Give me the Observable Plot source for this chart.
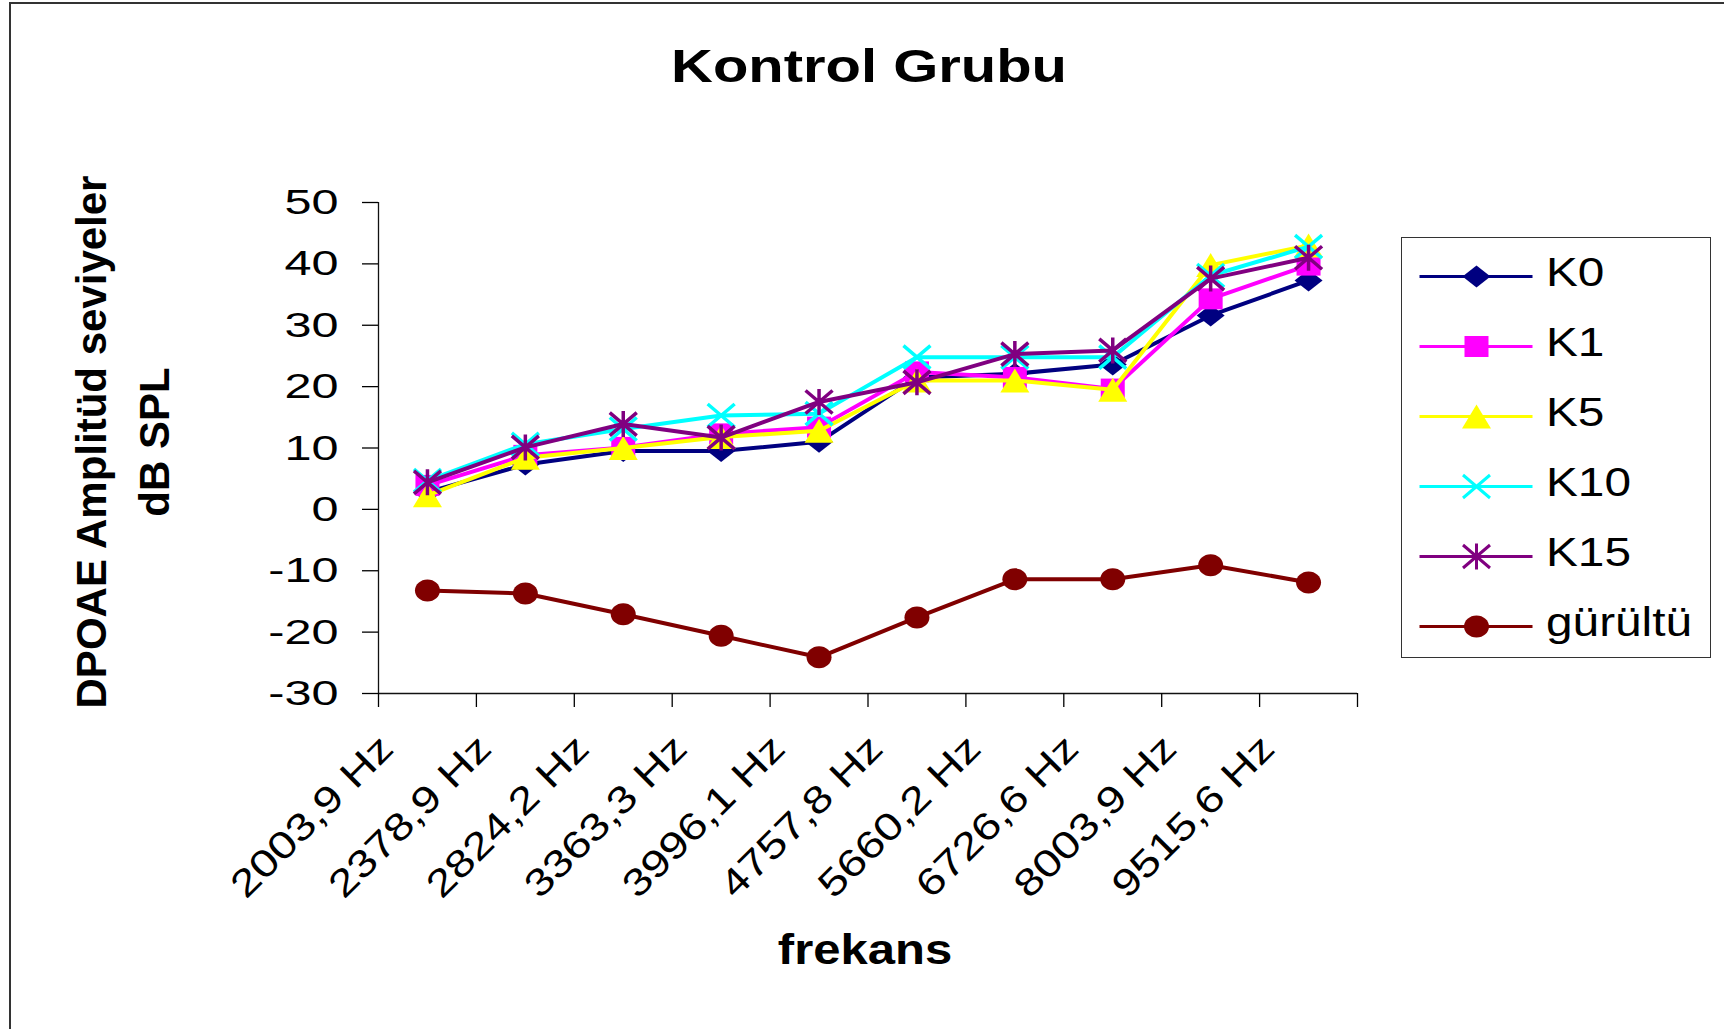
<!DOCTYPE html>
<html><head><meta charset="utf-8">
<script src="https://cdn.jsdelivr.net/npm/d3@7"></script>
<script src="https://cdn.jsdelivr.net/npm/@observablehq/plot@0.6"></script>
<style>
html,body{margin:0;padding:0;background:#fff;}
#page{position:relative;width:1724px;height:1029px;overflow:hidden;background:#fff;font-family:"Liberation Sans",Arial,sans-serif;}
#frame{position:absolute;left:9px;top:2px;width:1800px;height:1100px;border:2px solid #333;box-sizing:border-box;}
#chart{position:absolute;left:0;top:0;}
#legend{position:absolute;left:1401px;top:237px;width:310px;height:421px;border:1.5px solid #333;box-sizing:border-box;background:#fff;}
#legend svg{position:absolute;left:0;top:0;}
</style></head>
<body><div id="page"><div id="frame"></div><div id="chart"></div><div id="legend"></div></div>
<script>
// ---- data ----
const categories = ["2003,9 Hz","2378,9 Hz","2824,2 Hz","3363,3 Hz","3996,1 Hz","4757,8 Hz","5660,2 Hz","6726,6 Hz","8003,9 Hz","9515,6 Hz"];
const K0  = [2.8, 7.3, 9.5, 9.5, 11.0, 21.5, 22.1, 23.6, 31.6, 37.3];
const K1  = [3.9, 8.8, 10.1, 12.3, 13.4, 22.4, 21.5, 19.6, 34.3, 39.8];
const K5  = [2.3, 8.4, 10.0, 11.8, 12.8, 21.0, 21.0, 19.5, 39.8, 43.0];
const K10 = [4.7, 10.6, 13.1, 15.3, 15.6, 24.8, 24.8, 24.8, 38.1, 42.8];
const K15 = [4.4, 10.1, 13.9, 11.7, 17.5, 20.7, 25.3, 25.9, 37.6, 41.0];
const gurultu = [-13.2, -13.7, -17.1, -20.6, -24.1, -17.6, -11.4, -11.4, -9.1, -11.9];
const seriesNames = ["K0","K1","K5","K10","K15","gürültü"];
const seriesValues = [K0, K1, K5, K10, K15, gurultu];
const seriesColors = ["#000080","#FF00FF","#FFFF00","#00FFFF","#800080","#800000"];
const yTicks = [-30,-20,-10,0,10,20,30,40,50];
const titleText = "Kontrol Grubu";
const xTitle = "frekans";
const yTitle1 = "DPOAE Amplitüd seviyeler";
const yTitle2 = "dB SPL";

// ---- marker shapes (Excel-like) ----
const symDiamond = {draw(c){c.moveTo(0,-11);c.lineTo(14,0);c.lineTo(0,11);c.lineTo(-14,0);c.closePath();}};
const symSquare = {draw(c){c.moveTo(-12,-10.5);c.lineTo(12,-10.5);c.lineTo(12,10.5);c.lineTo(-12,10.5);c.closePath();}};
const symTriangle = {draw(c){c.moveTo(0,-12);c.lineTo(14.5,12);c.lineTo(-14.5,12);c.closePath();}};
const symX = {draw(c){c.moveTo(-13.5,-11.5);c.lineTo(13.5,11.5);c.moveTo(13.5,-11.5);c.lineTo(-13.5,11.5);}};
const symStar = {draw(c){c.moveTo(-13.5,-11.5);c.lineTo(13.5,11.5);c.moveTo(13.5,-11.5);c.lineTo(-13.5,11.5);c.moveTo(0,-13);c.lineTo(0,13);}};
const symEllipse = {draw(c){const rx=12.5, ry=11, k=0.5523;
  c.moveTo(rx,0);
  c.bezierCurveTo(rx,ry*k,rx*k,ry,0,ry);
  c.bezierCurveTo(-rx*k,ry,-rx,ry*k,-rx,0);
  c.bezierCurveTo(-rx,-ry*k,-rx*k,-ry,0,-ry);
  c.bezierCurveTo(rx*k,-ry,rx,-ry*k,rx,0);
  c.closePath();}};
const seriesSymbols = [symDiamond, symSquare, symTriangle, symX, symStar, symEllipse];
const strokeOnly = [false,false,false,true,true,false];

const FONT = "'Liberation Sans', Arial, sans-serif";

function stretch(el, s){
  const x = +el.getAttribute("x") || 0, y = +el.getAttribute("y") || 0;
  const t = el.getAttribute("transform") || "";
  el.setAttribute("transform", `${t} translate(${x},${y}) scale(${s},1) translate(${-x},${-y})`);
}

// ---- main chart ----
const boundaries = d3.range(categories.length + 1).map(k => k - 0.5);
const marks = [
  Plot.ruleX([-0.5], {stroke: "#111", strokeWidth: 1.3}),
  Plot.ruleY([-30], {stroke: "#111", strokeWidth: 1.3}),
  Plot.axisY({ticks: yTicks, tickSize: 16, tickPadding: 24, fontSize: 36, tickFormat: d => String(d), strokeWidth: 1.3, label: null}),
  Plot.axisX({ticks: boundaries, tickSize: 14, tickFormat: () => "", strokeWidth: 1.3, label: null}),
  Plot.text(categories, {x: (d, i) => i, text: d => d, frameAnchor: "bottom", dx: -32, dy: 57, rotate: -45, textAnchor: "end", fontSize: 38, fill: "#000"})
];
seriesNames.forEach((name, s) => {
  const rows = seriesValues[s].map((v, i) => ({i, v}));
  marks.push(Plot.line(rows, {x: "i", y: "v", stroke: seriesColors[s], strokeWidth: 4}));
  marks.push(Plot.dot(rows, {x: "i", y: "v", symbol: seriesSymbols[s], r: 11,
    fill: strokeOnly[s] ? "none" : seriesColors[s],
    stroke: strokeOnly[s] ? seriesColors[s] : "none",
    strokeWidth: 3.5}));
});

const chart = Plot.plot({
  width: 1724, height: 1029,
  marginLeft: 378, marginRight: 367, marginTop: 202, marginBottom: 336,
  x: {type: "linear", domain: [-0.5, categories.length - 0.5], axis: null},
  y: {domain: [-30, 50], axis: null},
  style: {fontFamily: FONT, color: "#000", background: "transparent", overflow: "visible"},
  marks
});
chart.querySelectorAll('g[aria-label="y-axis tick label"] text').forEach(t => stretch(t, 1.35));
chart.querySelectorAll('g[aria-label="text"] text').forEach(t => stretch(t, 1.22));

const sv = d3.select(chart);
function addText(str, x, y, size, rotate, sx){
  sv.append("text")
    .attr("transform", `translate(${x},${y}) rotate(${rotate}) scale(${sx},1)`)
    .attr("text-anchor", "middle").attr("font-size", size).attr("font-weight", "bold")
    .attr("font-family", FONT).attr("fill", "#000").text(str);
}
addText(titleText, 869, 82, 46, 0, 1.26);
addText(xTitle, 865, 964, 43, 0, 1.14);
addText(yTitle1, 106, 442, 42, -90, 1);
addText(yTitle2, 169, 442, 42, -90, 1);
document.getElementById("chart").appendChild(chart);

// ---- legend ----
const legendMarks = [];
seriesNames.forEach((name, s) => {
  legendMarks.push(Plot.ruleY([name], {y: d => d, x1: 0, x2: 1, stroke: seriesColors[s], strokeWidth: 3}));
  legendMarks.push(Plot.dot([name], {y: d => d, x: 0.5, symbol: seriesSymbols[s], r: 11,
    fill: strokeOnly[s] ? "none" : seriesColors[s],
    stroke: strokeOnly[s] ? seriesColors[s] : "none", strokeWidth: 3}));
});
legendMarks.push(Plot.text(seriesNames, {y: d => d, x: 1, text: d => d, dx: 13, dy: -3.5, textAnchor: "start", fontSize: 40.5, fill: "#000"}));
const legend = Plot.plot({
  width: 307, height: 418,
  marginLeft: 17.5, marginRight: 176.5, marginTop: 37.5, marginBottom: 30.5,
  x: {domain: [0, 1], axis: null},
  y: {type: "point", domain: seriesNames, padding: 0, axis: null},
  style: {fontFamily: FONT, color: "#000", background: "transparent", overflow: "visible"},
  marks: legendMarks
});
legend.querySelectorAll('g[aria-label="text"] text').forEach(t => stretch(t, 1.18));
document.getElementById("legend").appendChild(legend);
</script>
</body></html>
